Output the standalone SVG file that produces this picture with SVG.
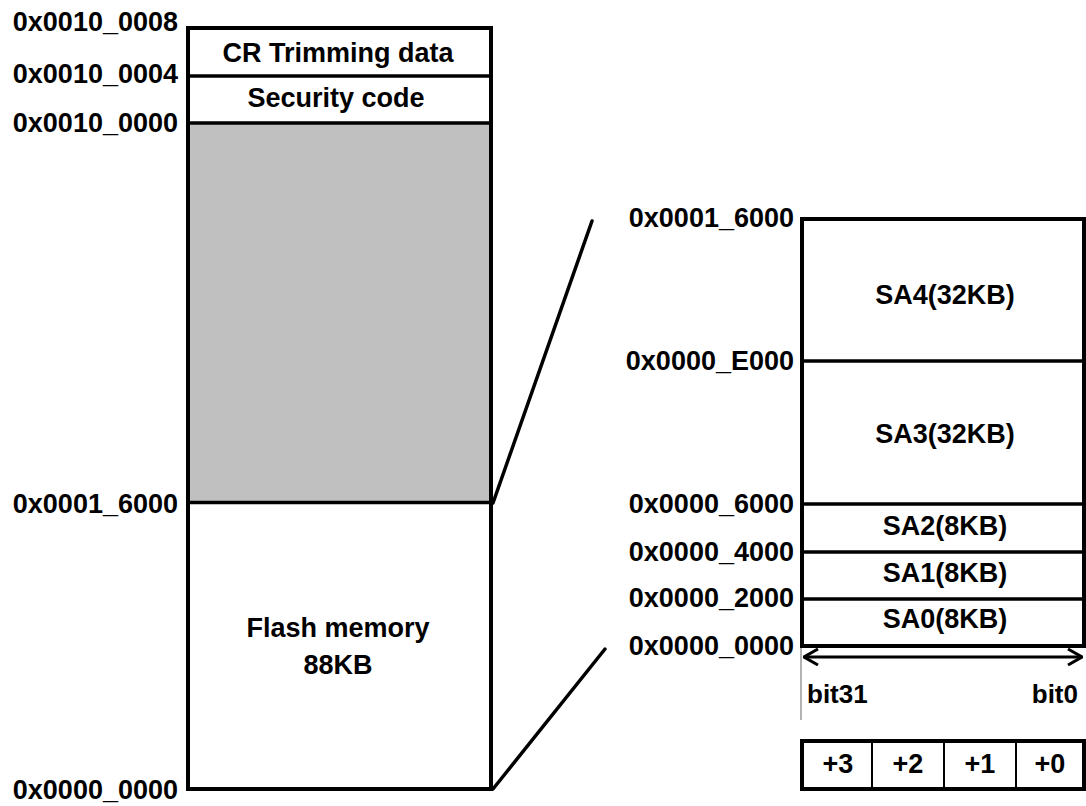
<svg xmlns="http://www.w3.org/2000/svg" width="1086" height="806" viewBox="0 0 1086 806">
  <style>
    text { font-family: "Liberation Sans", Arial, sans-serif; font-weight: bold; font-size: 27px; fill: #000; }
    .addr { text-anchor: end; }
    .mid { text-anchor: middle; }
    .bit { font-size: 26px; }
    .box { fill: #fff; stroke: #000; stroke-width: 4; }
    .frame { fill: none; stroke: #000; stroke-width: 4; }
    .div { fill: none; stroke: #000; stroke-width: 3.5; }
    .thin { fill: none; stroke: #000; stroke-width: 2; }
    .conn { fill: none; stroke: #000; stroke-width: 3.5; stroke-linecap: round; }
  </style>
  <defs>
    <marker id="chev" viewBox="0 0 16 18" refX="15" refY="9" markerWidth="16" markerHeight="18" markerUnits="userSpaceOnUse" orient="auto-start-reverse">
      <path d="M1,1 L15,9 L1,17" fill="none" stroke="#000" stroke-width="3"/>
    </marker>
  </defs>
  <rect width="1086" height="806" fill="#fff"/>

  <!-- overall memory map -->
  <g id="memory-map">
    <rect x="188" y="28" width="303" height="761" fill="#fff"/>
    <rect x="188" y="123" width="303" height="379" fill="#c0c0c0"/>
    <line class="div" x1="188" y1="76" x2="491" y2="76"/>
    <line class="div" x1="188" y1="123" x2="491" y2="123"/>
    <line class="div" x1="188" y1="502.5" x2="491" y2="502.5"/>
    <rect class="frame" x="188" y="28" width="303" height="761"/>
  </g>
  <g id="cr-trimming">
    <text class="mid" x="338" y="62">CR Trimming data</text>
  </g>
  <g id="security-code">
    <text class="mid" x="336" y="107">Security code</text>
  </g>
  <g id="flash-memory">
    <text class="mid" x="338" y="637">Flash memory</text>
    <text class="mid" x="338" y="674">88KB</text>
  </g>

  <!-- addresses of the overall map -->
  <g id="map-addresses">
    <text class="addr" x="178" y="31">0x0010_0008</text>
    <text class="addr" x="178" y="83">0x0010_0004</text>
    <text class="addr" x="178" y="132">0x0010_0000</text>
    <text class="addr" x="178" y="513">0x0001_6000</text>
    <text class="addr" x="178" y="799">0x0000_0000</text>
  </g>

  <!-- zoom lines from flash area to sector detail -->
  <g id="connectors">
    <line class="conn" x1="493" y1="503" x2="592" y2="221"/>
    <line class="conn" x1="493" y1="789" x2="605" y2="649"/>
  </g>

  <!-- flash sector detail -->
  <g id="sectors">
    <rect class="box" x="802" y="219" width="282" height="427"/>
    <line class="div" x1="802" y1="361" x2="1084" y2="361"/>
    <line class="div" x1="802" y1="504" x2="1084" y2="504"/>
    <line class="div" x1="802" y1="552" x2="1084" y2="552"/>
    <line class="div" x1="802" y1="599" x2="1084" y2="599"/>
  </g>
  <g id="sa4"><text class="mid" x="945" y="304">SA4(32KB)</text></g>
  <g id="sa3"><text class="mid" x="945" y="443">SA3(32KB)</text></g>
  <g id="sa2"><text class="mid" x="945" y="535">SA2(8KB)</text></g>
  <g id="sa1"><text class="mid" x="945" y="582">SA1(8KB)</text></g>
  <g id="sa0"><text class="mid" x="945" y="628">SA0(8KB)</text></g>

  <g id="sector-addresses">
    <text class="addr" x="794" y="227">0x0001_6000</text>
    <text class="addr" x="794" y="370">0x0000_E000</text>
    <text class="addr" x="794" y="513">0x0000_6000</text>
    <text class="addr" x="794" y="561">0x0000_4000</text>
    <text class="addr" x="794" y="607">0x0000_2000</text>
    <text class="addr" x="794" y="655">0x0000_0000</text>
  </g>

  <!-- bit width indicator -->
  <g id="bit-range">
    <line x1="801" y1="648" x2="801" y2="720" stroke="#999" stroke-width="1.5"/>
    <line x1="804" y1="657" x2="1082" y2="657" stroke="#000" stroke-width="3" marker-start="url(#chev)" marker-end="url(#chev)"/>
    <text class="bit" x="807" y="703">bit31</text>
    <text class="bit" x="1078" y="703" text-anchor="end">bit0</text>
  </g>

  <!-- byte offsets within a word -->
  <g id="byte-lanes">
    <rect class="box" x="802" y="741" width="282" height="48"/>
    <line class="thin" x1="872" y1="741" x2="872" y2="789"/>
    <line class="thin" x1="944" y1="741" x2="944" y2="789"/>
    <line class="thin" x1="1016" y1="741" x2="1016" y2="789"/>
    <text class="mid" x="838" y="773">+3</text>
    <text class="mid" x="908" y="773">+2</text>
    <text class="mid" x="980" y="773">+1</text>
    <text class="mid" x="1050" y="773">+0</text>
  </g>
</svg>
